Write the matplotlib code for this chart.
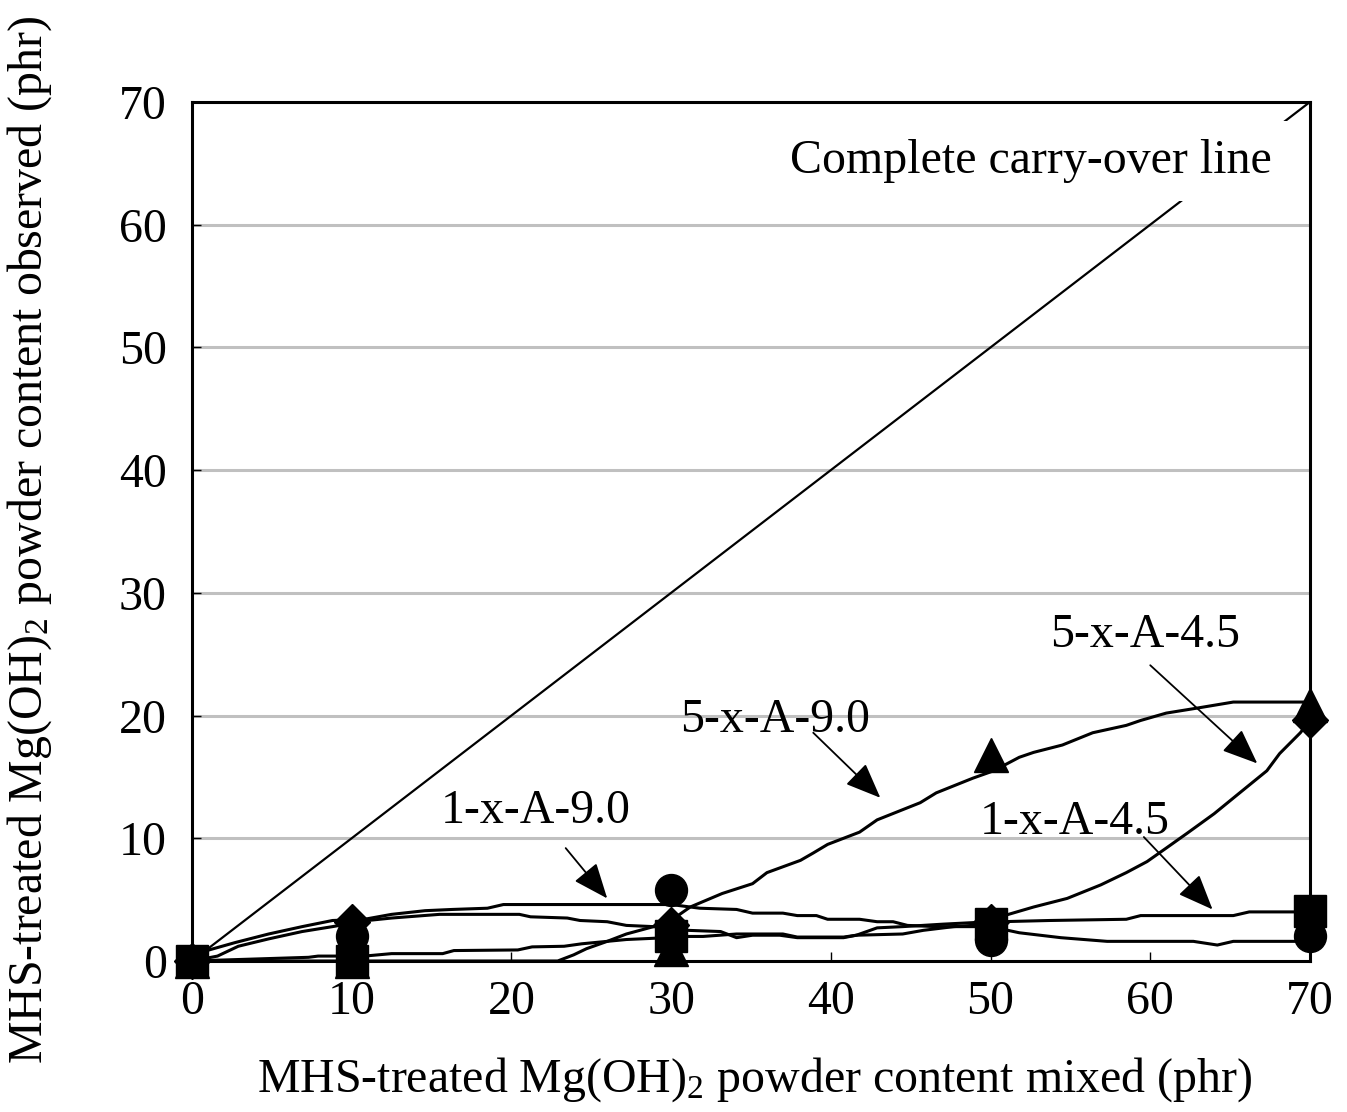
import matplotlib
matplotlib.use("Agg")
import matplotlib.pyplot as plt

plt.rcParams["font.family"] = ["Liberation Serif", "DejaVu Serif"]
plt.rcParams["mathtext.fontset"] = "custom"
plt.rcParams["mathtext.rm"] = "Liberation Serif"
plt.rcParams["mathtext.default"] = "rm"

# measured points (phr)
mixed = [0, 10, 30, 50, 70]
obs_1x_90 = [0, 2.0, 5.8, 1.7, 2.0]      # circles
obs_1x_45 = [0, 0, 2.0, 3.0, 4.1]        # squares
obs_5x_90 = [0, 0, 1.0, 16.8, 20.9]      # triangles
obs_5x_45 = [0, 3.2, 2.9, 3.2, 19.6]     # diamonds

# smoothed curves as drawn in the figure
curve_1x_90_x = [0, 0.8, 2.7, 4.8, 6.9, 8.8, 10.8, 12.5, 14.6, 16.3, 18.5, 19.5, 30, 31.8, 34.1, 35.1, 37,
                 37.9, 39.1, 39.8, 41.8, 42.9, 43.9, 44.8, 46.6, 50, 51.8, 54.4, 57.3, 62.7, 64.2, 65.2, 70]
curve_1x_90_y = [0, 0.8, 1.5, 2.2, 2.8, 3.3, 3.4, 3.8, 4.1, 4.2, 4.3, 4.6, 4.6, 4.3, 4.2, 3.9, 3.9,
                 3.7, 3.7, 3.4, 3.4, 3.2, 3.2, 2.9, 2.8, 2.8, 2.3, 1.9, 1.6, 1.6, 1.3, 1.6, 1.6]

curve_1x_45_x = [0, 7.3, 7.9, 10.8, 12.5, 15.7, 16.4, 20.4, 21.3, 23.3, 24.4, 27.2, 28.9, 31, 32, 34.1, 37,
                 37.9, 40.8, 41.6, 44.5, 45.8, 47.7, 50, 50.6, 53.7, 58.5, 59.4, 65.2, 66.2, 70]
curve_1x_45_y = [0, 0.3, 0.4, 0.4, 0.6, 0.6, 0.85, 0.9, 1.15, 1.2, 1.4, 1.75, 1.85, 2.0, 2.0, 2.2, 2.2,
                 1.95, 1.95, 2.1, 2.2, 2.5, 2.8, 3.0, 3.2, 3.3, 3.4, 3.7, 3.7, 4.0, 4.0]

curve_5x_90_x = [0, 22.9, 23.9, 24.7, 26, 27.2, 28.9, 30.1, 31.2, 33.2, 35.1, 36, 38.1, 38.9, 39.8, 41.8,
                 42.9, 45.6, 46.6, 48.9, 50.2, 51.8, 52.7, 54.5, 56.4, 58.5, 59.4, 61, 62.9, 65.2, 70]
curve_5x_90_y = [0, 0, 0.5, 1.0, 1.6, 2.2, 2.8, 3.4, 4.4, 5.5, 6.3, 7.2, 8.2, 8.8, 9.5, 10.5,
                 11.5, 12.9, 13.7, 14.9, 15.5, 16.6, 17.0, 17.6, 18.6, 19.2, 19.6, 20.2, 20.6, 21.1, 21.1]

curve_5x_45_x = [0, 1.6, 2.9, 4.8, 6.9, 8.8, 11, 12.5, 15.5, 20.5, 21.2, 23.5, 24.3, 26, 27.2, 28.9, 31,
                 33.1, 34.1, 35.1, 36.8, 37.9, 40.8, 41.6, 42.9, 44.5, 47, 50, 50.6, 52.7, 54.8, 56.9,
                 58.5, 59.8, 61, 62.3, 64, 65.6, 67.3, 68.1, 69.4, 70]
curve_5x_45_y = [0, 0.4, 1.2, 1.8, 2.4, 2.8, 3.3, 3.5, 3.8, 3.8, 3.6, 3.5, 3.3, 3.2, 2.9, 2.8, 2.5,
                 2.4, 1.9, 2.1, 2.1, 1.9, 1.9, 2.1, 2.7, 2.8, 3.0, 3.2, 3.6, 4.4, 5.1, 6.2,
                 7.2, 8.1, 9.2, 10.4, 12.0, 13.7, 15.5, 16.9, 18.6, 19.6]

carry_over = [0, 70]

FS = 34.5

fig = plt.figure(figsize=(13.47, 11.12), dpi=100)
ax = fig.add_axes([0.1425, 0.1358, 0.83, 0.7725])

ax.plot(carry_over, carry_over, color="black", lw=1.6, zorder=2)

for cx, cy in [(curve_1x_90_x, curve_1x_90_y), (curve_1x_45_x, curve_1x_45_y),
               (curve_5x_90_x, curve_5x_90_y), (curve_5x_45_x, curve_5x_45_y)]:
    ax.plot(cx, cy, color="black", lw=2.2, zorder=3, clip_on=False)

ax.plot(mixed, obs_1x_90, "o", color="black", ms=23, zorder=4, clip_on=False)
ax.plot(mixed, obs_1x_45, "s", color="black", ms=23, zorder=4, clip_on=False)
ax.plot(mixed, obs_5x_90, "^", color="black", ms=24, zorder=4, clip_on=False)
ax.plot(mixed, obs_5x_45, "D", color="black", ms=18, zorder=5, clip_on=False)

ax.set_xlim(0, 70)
ax.set_ylim(0, 70)
ax.set_xticks(range(0, 71, 10))
ax.set_yticks(range(0, 71, 10))
ax.tick_params(axis="both", direction="in", length=6.5, width=1.0, labelsize=FS, color="black")
ax.tick_params(axis="x", pad=14)
ax.tick_params(axis="y", pad=18)
ax.grid(axis="y", color="#c0c0c0", lw=2.2, zorder=0)
ax.set_axisbelow(True)
for s in ax.spines.values():
    s.set_linewidth(2.2)
    s.set_color("black")

ax.set_xlabel("MHS-treated Mg(OH)$_2$ powder content mixed (phr)", fontsize=FS, va="center")
ax.xaxis.set_label_coords(0.503, -0.1385)
ax.set_ylabel("MHS-treated Mg(OH)$_2$ powder content observed (phr)", fontsize=FS, va="center")
ax.yaxis.set_label_coords(-0.145, 0.49)

ax.text(52.5, 65.2, "Complete carry-over line", fontsize=FS, ha="center", va="center", zorder=6,
        bbox=dict(facecolor="white", edgecolor="none", pad=13))

labels = [("5-x-A-4.5", (59.7, 26.6), (60.0, 24.1), (66.7, 16.1)),
          ("5-x-A-9.0", (36.5, 19.6), (38.9, 18.6), (43.1, 13.3)),
          ("1-x-A-9.0", (21.5, 12.2), (23.4, 9.2), (26.0, 5.1)),
          ("1-x-A-4.5", (55.3, 11.3), (59.6, 10.1), (63.9, 4.2))]
for txt, pos, start, tip in labels:
    ax.text(pos[0], pos[1], txt, fontsize=FS, ha="center", va="center", zorder=6)
    ax.annotate("", xy=tip, xytext=start, zorder=6,
                arrowprops=dict(arrowstyle="-|>,head_length=1.1,head_width=0.45",
                                mutation_scale=20, lw=1.3, color="black",
                                shrinkA=0, shrinkB=0))

fig.savefig("out.png", dpi=100)
